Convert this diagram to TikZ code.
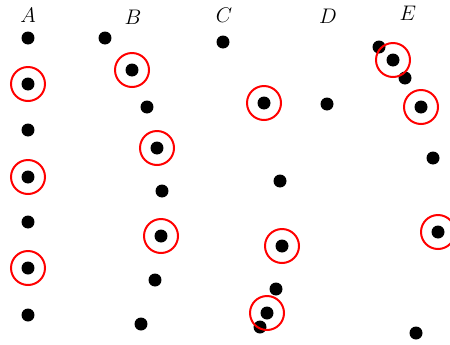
\documentclass[tikz,border=0pt]{standalone}
\usepackage{amsmath,amssymb}
\usepackage{tikz}
\usetikzlibrary{positioning}
\newcommand{\labf}[1]{\fontsize{12.5}{14}\selectfont{#1}}

\begin{document}
\begin{tikzpicture}[x=0.02cm, y=-0.02cm,
  dot/.style={circle, fill=black, inner sep=0pt, minimum size=0.26cm},
  ring/.style={circle, draw=red, line width=0.04cm, inner sep=0pt, minimum size=0.68cm}]
\useasboundingbox (0,0) rectangle (450,345);

%Nhãn các cột
\node (labA) at (28,15) {\labf{$A$}};
\node (labB) at (133,17) {\labf{$B$}};
\node (labC) at (224,15) {\labf{$C$}};
\node (labD) at (328,16) {\labf{$D$}};
\node (labE) at (408,13) {\labf{$E$}};

%Cột A
\node[dot] (a1) at (28,38) {};
\node[dot] (a2) at (28,84) {};
\node[dot] (a3) at (28,130) {};
\node[dot] (a4) at (28,177) {};
\node[dot] (a5) at (28,222) {};
\node[dot] (a6) at (28,268) {};
\node[dot] (a7) at (28,315) {};
\node[ring] (ra2) at (a2) {};	%Điểm được khoanh
\node[ring] (ra4) at (a4) {};
\node[ring] (ra6) at (a6) {};

%Cột B
\node[dot] (b1) at (105,38) {};
\node[dot] (b2) at (132,70) {};
\node[dot] (b3) at (147,107) {};
\node[dot] (b4) at (157,148) {};
\node[dot] (b5) at (162,191) {};
\node[dot] (b6) at (161,236) {};
\node[dot] (b7) at (155,280) {};
\node[dot] (b8) at (141,324) {};
\node[ring] (rb2) at (b2) {};
\node[ring] (rb4) at (b4) {};
\node[ring] (rb6) at (b6) {};

%Cột C
\node[dot] (c1) at (223,42) {};
\node[dot] (c2) at (264,103) {};
\node[dot] (c3) at (280,181) {};
\node[dot] (c4) at (282,246) {};
\node[dot] (c5) at (276,289) {};
\node[dot] (c6) at (267,313) {};
\node[dot] (c7) at (260,327) {};
\node[ring] (rc2) at (c2) {};
\node[ring] (rc4) at (c4) {};
\node[ring] (rc6) at (c6) {};

%Cột D
\node[dot] (d1) at (327,104) {};

%Cột E
\node[dot] (e1) at (379,47) {};
\node[dot] (e2) at (393,60) {};
\node[dot] (e3) at (405,78) {};
\node[dot] (e4) at (421,107) {};
\node[dot] (e5) at (433,158) {};
\node[dot] (e6) at (438,232) {};
\node[dot] (e7) at (416,333) {};
\node[ring] (re2) at (e2) {};
\node[ring] (re4) at (e4) {};
\node[ring] (re6) at (e6) {};
\end{tikzpicture}
\end{document}
